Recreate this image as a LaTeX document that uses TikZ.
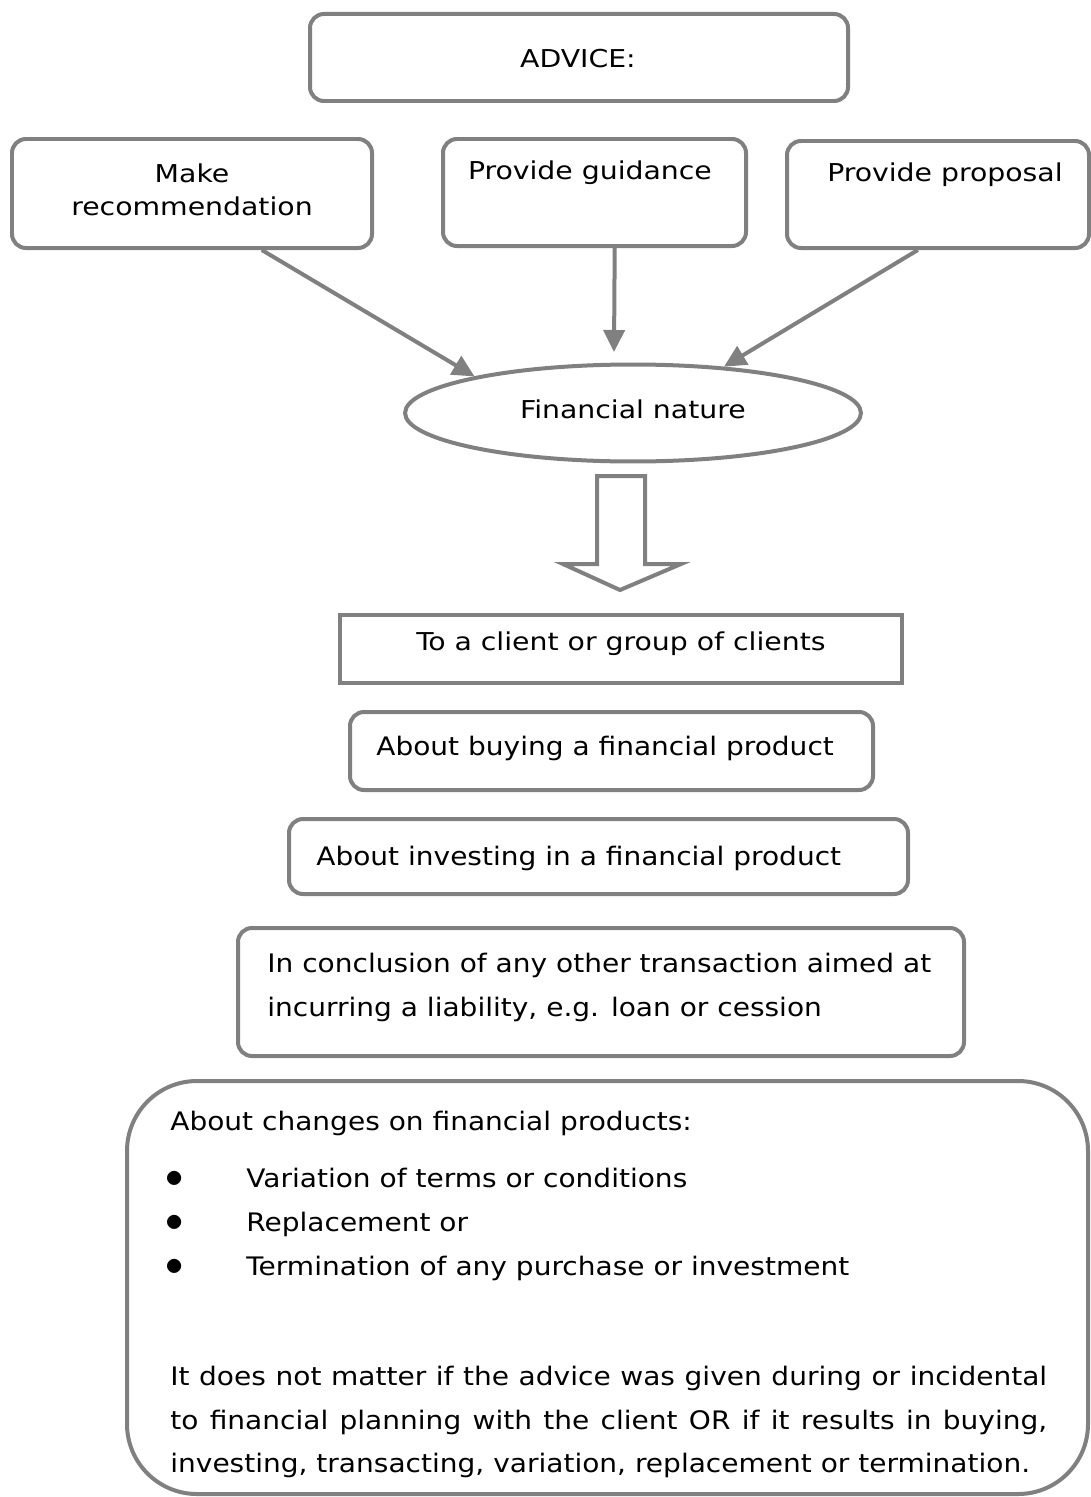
\documentclass[tikz,border=0pt]{standalone}
\usepackage{fontspec}
\setmainfont[FakeStretch=1.1]{DejaVu Sans}
\newfontfamily\narrowfont[FakeStretch=1.28]{DejaVu Sans Condensed}
\usetikzlibrary{arrows.meta,fit,shapes.geometric}
\definecolor{boxgray}{RGB}{128,128,128}
\tikzset{
  box/.style={draw=boxgray, line width=0.08cm, rounded corners=0.28cm, inner sep=0pt},
  plainbox/.style={draw=boxgray, line width=0.08cm, inner sep=0pt},
  bigbox/.style={draw=boxgray, line width=0.08cm, rounded corners=1.4cm, inner sep=0pt},
  headtext/.style={font=\narrowfont\fontsize{14}{19}\selectfont, align=center, inner sep=0pt},
  bodytext/.style={font=\fontsize{14.5}{25}\selectfont, align=left, inner sep=0pt},
  arr/.style={draw=boxgray, line width=0.08cm, -{Triangle[length=0.44cm,width=0.42cm]}}
}
\begin{document}
\begin{tikzpicture}[x=0.02cm, y=-0.02cm]
  \useasboundingbox (0,0) rectangle (1091,1497);
  % top box
  \node[box, fit={(310,14) (848,101)}] (advice) {};
  \node[headtext] (advicetxt) at (578,59) {ADVICE:};
  % the three kinds of advice
  \node[box, fit={(12,139) (372,248)}] (recom) {};
  \node[headtext] (recomtxt) at (192,190) {Make\\recommendation};
  \node[box, fit={(443,139) (746,246)}] (guide) {};
  \node[headtext] (guidetxt) at (590,173) {Provide guidance};
  \node[box, fit={(787,141) (1089,248)}] (propo) {};
  \node[headtext] (propotxt) at (945,175) {Provide proposal};
  % financial nature
  \node[ellipse, draw=boxgray, line width=0.08cm, minimum width=9.12cm, minimum height=1.94cm,
        inner sep=0pt, font=\narrowfont\fontsize{14}{19}\selectfont] (nature) at (633,413) {\raisebox{0.15cm}{Financial nature}};
  \coordinate (guidetip) at (614,352);
  % arrows into the ellipse
  \draw[arr] (recom.-39) -- (nature.167);
  \draw[arr] (guide.-70) -- (guidetip);
  \draw[arr] (propo.250) -- (nature.27);
  % block arrow
  \draw[boxgray, line width=0.08cm, line join=miter]
    (597,476) -- (645,476) -- (645,564) -- (681,564) -- (620,590) -- (563,564) -- (597,564) -- cycle;
  % client box
  \node[plainbox, fit={(340,615) (902,683)}] (client) {};
  \node[headtext] (clienttxt) at (621,644) {To a client or group of clients};
  % what the advice is about
  \node[box, fit={(350,712) (873,790)}] (buying) {};
  \node[bodytext, anchor=west] (buyingtxt) at (376,748) {About buying a financial product};
  \node[box, fit={(289,819) (908,894)}] (invest) {};
  \node[bodytext, anchor=west] (investtxt) at (316,858) {About investing in a financial product};
  \node[box, fit={(238,928) (964,1056)}] (concl) {};
  \node[bodytext, anchor=west] (concltxt) at (267,987)
    {In conclusion of any other transaction aimed at\\incurring a liability, e.g. loan or cession};
  % changes on products
  \node[bigbox, fit={(127,1081) (1088,1494)}] (changes) {};
  \node[bodytext, anchor=west] (changestxt) at (170,1123) {About changes on financial products:};
  \foreach \item [count=\index] in {Variation of terms or conditions, Replacement or,
                                    Termination of any purchase or investment}
  {
    \node[bodytext, anchor=base] (dot_\index) at (175,1143+\index*44) {\fontsize{20}{20}\selectfont$\bullet$};
    \node[bodytext, anchor=base west] (item_\index) at (246,1143+\index*44) {\item};
  }
  \node[bodytext, anchor=west, text width=17.54cm, align=justify] (mattertxt) at (170,1422)
    {It does not matter if the advice was given during or incidental\linebreak
     to financial planning with the client OR if it results in buying,\linebreak
     investing, transacting, variation, replacement or termination.};
\end{tikzpicture}
\end{document}
